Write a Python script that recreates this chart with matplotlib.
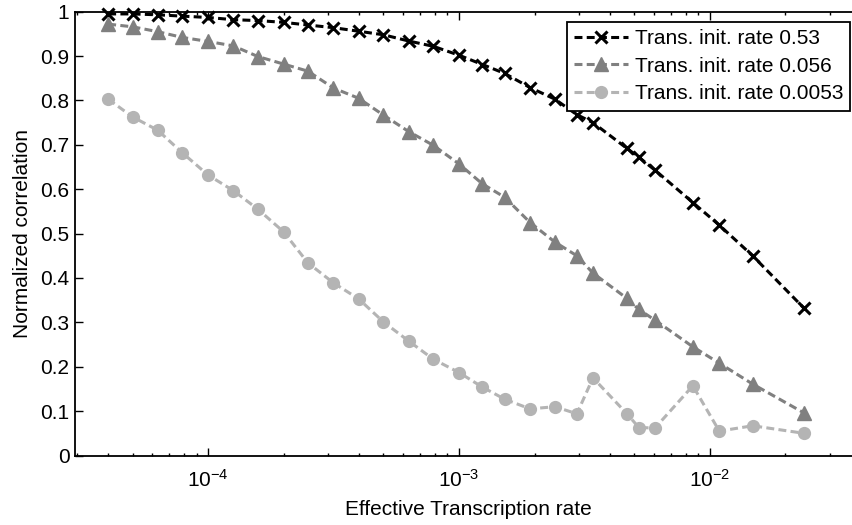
import numpy as np
import matplotlib
matplotlib.use('Agg')
import matplotlib.pyplot as plt
from matplotlib.ticker import LogLocator, FixedLocator, FuncFormatter, NullFormatter

# x axis: effective transcription rate (log scale)
rate = [4.0e-5, 5.0e-5, 6.3e-5, 7.9e-5, 1.0e-4, 1.26e-4, 1.58e-4, 2.0e-4,
        2.5e-4, 3.16e-4, 3.98e-4, 5.0e-4, 6.3e-4, 7.9e-4, 1.0e-3, 1.24e-3,
        1.52e-3, 1.92e-3, 2.41e-3, 2.95e-3, 3.42e-3, 4.67e-3, 5.21e-3,
        6.04e-3, 8.55e-3, 1.09e-2, 1.48e-2, 2.37e-2]

# normalized correlation for the three initiation rates
corr_053 = [0.995, 0.995, 0.993, 0.990, 0.987, 0.982, 0.980, 0.976, 0.970,
            0.964, 0.956, 0.948, 0.934, 0.922, 0.902, 0.881, 0.861, 0.829,
            0.803, 0.768, 0.750, 0.692, 0.672, 0.643, 0.570, 0.519, 0.450,
            0.332]
corr_0056 = [0.972, 0.966, 0.955, 0.942, 0.933, 0.923, 0.899, 0.882, 0.866,
             0.828, 0.805, 0.767, 0.730, 0.699, 0.657, 0.612, 0.582, 0.525,
             0.481, 0.450, 0.411, 0.354, 0.329, 0.305, 0.245, 0.208, 0.161,
             0.096]
corr_00053 = [0.803, 0.763, 0.733, 0.682, 0.632, 0.597, 0.555, 0.504, 0.434,
              0.389, 0.353, 0.301, 0.258, 0.217, 0.187, 0.154, 0.127, 0.105,
              0.110, 0.094, 0.175, 0.094, 0.063, 0.062, 0.157, 0.055, 0.067,
              0.050]

labels = ['Trans. init. rate 0.53', 'Trans. init. rate 0.056',
          'Trans. init. rate 0.0053']
y_ticks = [0, 0.1, 0.2, 0.3, 0.4, 0.5, 0.6, 0.7, 0.8, 0.9, 1]

plt.rcParams['font.family'] = ['Liberation Sans', 'DejaVu Sans']
plt.rcParams['mathtext.fontset'] = 'custom'
plt.rcParams['mathtext.rm'] = 'Liberation Sans'
plt.rcParams['mathtext.default'] = 'regular'
plt.rcParams['axes.unicode_minus'] = False
fs = 15

W, H = 853, 525
fig = plt.figure(figsize=(W / 100.0, H / 100.0), dpi=100)
# axes box in pixels (right side runs past the image edge, as in the crop)
left, right, top, bottom = 75, 861, 11.7, 455.5
ax = fig.add_axes([left / W, 1 - bottom / H, (right - left) / W, (bottom - top) / H])

dash = [2.6, 1.4]
ax.plot(rate, corr_053, color='black', lw=2.2, dashes=dash,
        marker='x', ms=8.5, mew=2.2, label=labels[0], clip_on=False)
ax.plot(rate, corr_0056, color='#808080', lw=2.2, dashes=dash,
        marker='^', ms=10, mec='#808080', mfc='#808080', label=labels[1], clip_on=False)
ax.plot(rate, corr_00053, color='#b4b4b4', lw=2.2, dashes=dash,
        marker='o', ms=8.5, mec='#b4b4b4', mfc='#b4b4b4', label=labels[2], clip_on=False)

ax.set_xscale('log')
ax.set_xlim(2.95e-5, 4.0e-2)
ax.set_ylim(0, 1)
ax.yaxis.set_major_locator(FixedLocator(y_ticks))
ax.yaxis.set_major_formatter(FuncFormatter(lambda v, p: '%g' % v))
ax.xaxis.set_major_locator(LogLocator(base=10, numticks=10))
ax.xaxis.set_minor_locator(LogLocator(base=10, subs=np.arange(2, 10), numticks=10))
ax.xaxis.set_minor_formatter(NullFormatter())

ax.tick_params(axis='both', which='major', direction='in', length=6, width=1,
               top=True, right=True, labelsize=fs)
ax.tick_params(axis='x', which='major', pad=10)
ax.tick_params(axis='y', which='major', pad=4)
ax.tick_params(axis='x', which='minor', direction='in', length=2.5, width=1, top=True)
for s in ax.spines.values():
    s.set_linewidth(1.3)

ax.set_xlabel('Effective Transcription rate', fontsize=fs, labelpad=6)
ax.set_ylabel('Normalized correlation', fontsize=fs, labelpad=6)

leg = ax.legend(loc='upper left', bbox_to_anchor=(567 / W, 1 - 21.7 / H),
                bbox_transform=fig.transFigure, numpoints=1, handlelength=2.6,
                handletextpad=0.3, labelspacing=0.42, borderpad=0.35,
                borderaxespad=0, fancybox=False, framealpha=1,
                edgecolor='black', fontsize=fs)
leg.get_frame().set_linewidth(1.3)

fig.savefig('out.png', dpi=100)
